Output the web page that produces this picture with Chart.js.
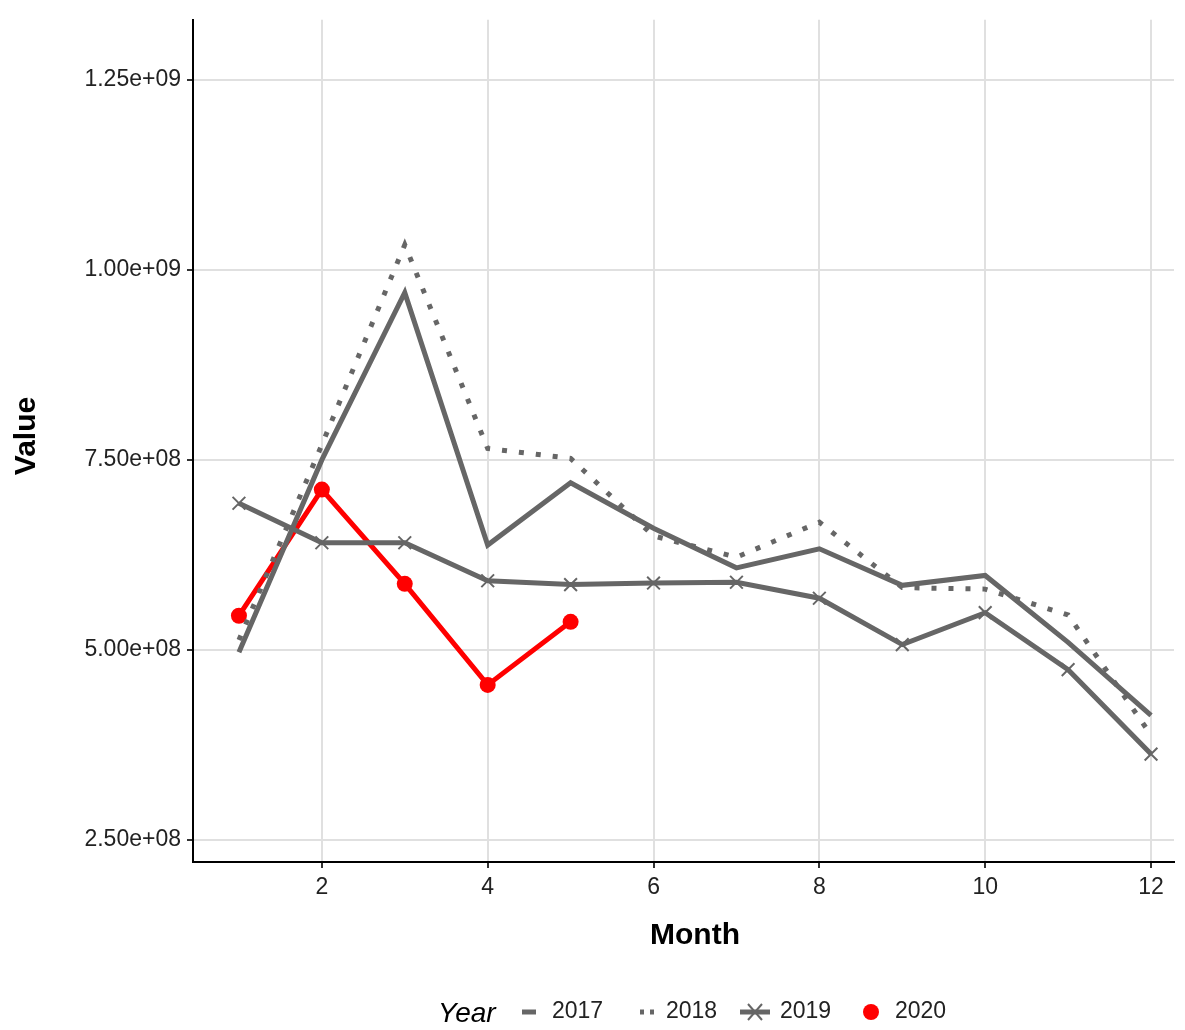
<!DOCTYPE html>
<html><head><meta charset="utf-8">
<script src="https://cdn.jsdelivr.net/npm/chart.js@4"></script>
<style>html,body{margin:0;padding:0;background:#fff}</style>
</head><body>
<div style="width:1185px;height:1030px"><canvas id="c"></canvas></div>
<script>
const months=[1,2,3,4,5,6,7,8,9,10,11,12];
const v2017=[4.97e8,7.5e8,9.7e8,6.38e8,7.2e8,6.6e8,6.08e8,6.33e8,5.85e8,5.98e8,5.1e8,4.14e8];
const v2018=[5.13e8,7.7e8,1.033e9,7.65e8,7.52e8,6.5e8,6.22e8,6.68e8,5.82e8,5.8e8,5.46e8,3.88e8];
const v2019=[6.93e8,6.41e8,6.41e8,5.91e8,5.86e8,5.88e8,5.89e8,5.68e8,5.07e8,5.49e8,4.74e8,3.63e8];
const v2020=[5.45e8,7.11e8,5.87e8,4.54e8,5.37e8];
const yTicks=[2.5e8,5e8,7.5e8,1e9,1.25e9];
const xTicks=[2,4,6,8,10,12];
const grey='#666666';
const pts=(xs,ys)=>ys.map((y,i)=>({x:xs[i],y}));
const fmt=v=>{const s=v.toExponential(2);return s.replace(/e\+(\d)$/,'e+0$1');};
const font='"Liberation Sans", Arial, sans-serif';
const extras={id:'extras',afterDraw(ch){
  const c=ch.ctx;c.save();c.fillStyle='#000';
  c.font='bold 30px '+font;c.textAlign='center';c.textBaseline='middle';
  c.fillText('Month',695,936);
  c.translate(27,436);c.rotate(-Math.PI/2);c.fillText('Value',0,0);c.restore();
  c.save();c.textBaseline='middle';const y=1012;
  c.font='italic 28px '+font;c.fillStyle='#000';c.fillText('Year',438,y+2);
  c.font='23px '+font;
  c.strokeStyle=grey;c.lineWidth=5;c.beginPath();c.moveTo(522,y);c.lineTo(536,y);c.stroke();
  c.fillStyle='#222';c.fillText('2017',552,y);
  c.beginPath();c.moveTo(640,y);c.lineTo(644,y);c.moveTo(650,y);c.lineTo(654,y);c.stroke();
  c.fillText('2018',666,y);
  c.lineWidth=5;c.beginPath();c.moveTo(740,y);c.lineTo(770,y);c.stroke();
  c.lineWidth=2;c.beginPath();c.moveTo(748,y-8);c.lineTo(762,y+8);c.moveTo(748,y+8);c.lineTo(762,y-8);c.stroke();
  c.fillText('2019',780,y);
  c.fillStyle='#ff0000';c.beginPath();c.arc(871,y,8,0,Math.PI*2);c.fill();
  c.fillStyle='#222';c.fillText('2020',895,y);
  c.restore();
}};
new Chart(document.getElementById('c'),{
  type:'line',
  data:{datasets:[
    {label:'2017',data:pts(months,v2017),borderColor:grey,borderWidth:5,pointRadius:0},
    {label:'2018',data:pts(months,v2018),borderColor:grey,borderWidth:5,borderDash:[5,12],pointRadius:0},
    {label:'2019',data:pts(months,v2019),borderColor:grey,borderWidth:5,pointStyle:'crossRot',pointRadius:9,pointBorderWidth:2,pointBorderColor:grey},
    {label:'2020',data:pts([1,2,3,4,5],v2020),borderColor:'#ff0000',backgroundColor:'#ff0000',borderWidth:5,pointRadius:8,pointBorderWidth:0}
  ]},
  options:{responsive:true,maintainAspectRatio:false,animation:false,
    layout:{padding:{top:2,right:0,left:0,bottom:0}},
    plugins:{legend:{display:false},tooltip:{enabled:false}},
    scales:{
      x:{type:'linear',min:0.446,max:12.277,
        afterBuildTicks:s=>{s.ticks=xTicks.map(v=>({value:v}));},
        afterFit:s=>{s.height=168;},
        ticks:{color:'#222',font:{size:23,family:font},padding:6},
        grid:{color:'#e0e0e0',lineWidth:2,drawTicks:true,tickColor:'#333',tickLength:6},
        border:{color:'#000',width:2}},
      y:{min:2.21e8,max:1.329e9,
        afterBuildTicks:s=>{s.ticks=yTicks.map(v=>({value:v}));},
        afterFit:s=>{s.width=193;},
        ticks:{color:'#222',font:{size:23,family:font},padding:6,callback:v=>fmt(v)},
        grid:{color:'#e0e0e0',lineWidth:2,tickColor:'#333',tickLength:6},
        border:{color:'#000',width:2}}
    }},
  plugins:[extras]
});
</script>
</body></html>
